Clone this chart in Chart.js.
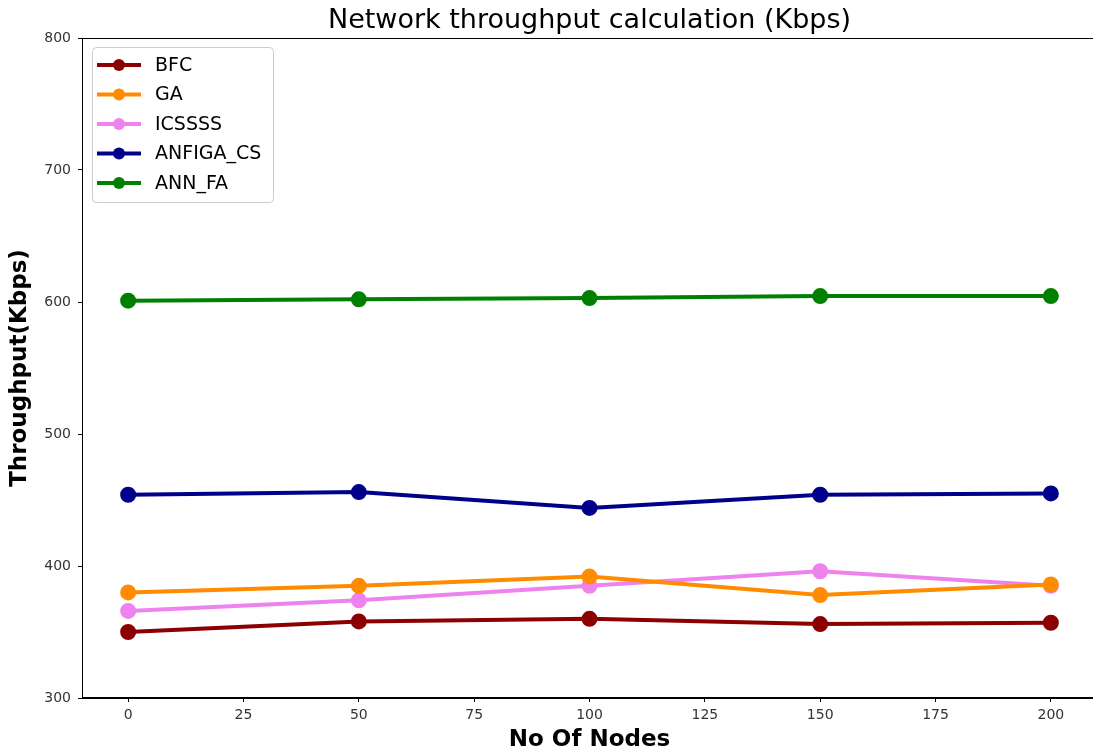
<!DOCTYPE html>
<html>
<head>
<meta charset="utf-8">
<script src="https://cdn.jsdelivr.net/npm/chart.js@4/dist/chart.umd.min.js"></script>
<style>
  html, body { margin: 0; padding: 0; background: #fff; overflow: hidden; }
  canvas { display: block; }
</style>
</head>
<body>
<!-- a bit wider than the window: the right spine sits just past the edge, as in the original -->
<canvas id="tputChart" width="1098" height="754"></canvas>
<script>
// DATA
const nodes = [0, 50, 100, 150, 200];
const bfc = [350, 358, 360, 356, 357];
const ga = [380, 385, 392, 378, 386];
const icssss = [366, 374, 385, 396, 385];
const anfigaCs = [454, 456, 444, 454, 455];
const annFa = [601, 602, 603, 604.5, 604.5];

const seriesNames = ["BFC", "GA", "ICSSSS", "ANFIGA_CS", "ANN_FA"];
const seriesColors = ["darkred", "darkorange", "violet", "darkblue", "green"];
const seriesValues = [bfc, ga, icssss, anfigaCs, annFa];

const FONT = "'DejaVu Sans', sans-serif";

// matplotlib-ish frame (top + right spines), title centred over the axes
const framePlugin = {
  id: "frame",
  afterLayout(chart) {
    if (chart.titleBlock) {
      chart.titleBlock.left = chart.chartArea.left;
      chart.titleBlock.right = chart.chartArea.right;
    }
  },
  beforeDatasetsDraw(chart) {
    const { ctx, chartArea: a } = chart;
    ctx.save();
    ctx.strokeStyle = "#000";
    ctx.lineWidth = 1;
    ctx.strokeRect(a.left + 0.5, a.top + 0.5, a.right - a.left - 1, a.bottom - a.top - 1);
    ctx.restore();
  }
};

// legend inside axes, upper left, line + marker
const boxLegend = {
  id: "boxLegend",
  afterDraw(chart) {
    const { ctx, chartArea: a } = chart;
    const x0 = a.left + 10, y0 = a.top + 9;
    const w = 181, h = 155, rowH = 29.5;
    ctx.save();
    ctx.fillStyle = "rgba(255,255,255,0.8)";
    ctx.strokeStyle = "#ccc";
    ctx.lineWidth = 1;
    ctx.beginPath();
    ctx.roundRect(x0 + 0.5, y0 + 0.5, w, h, 4);
    ctx.fill();
    ctx.stroke();
    ctx.font = "19px " + FONT;
    ctx.textBaseline = "middle";
    chart.data.datasets.forEach((ds, i) => {
      const cy = y0 + 18 + i * rowH;
      ctx.strokeStyle = ds.borderColor;
      ctx.lineWidth = 4;
      ctx.beginPath();
      ctx.moveTo(x0 + 5, cy);
      ctx.lineTo(x0 + 49, cy);
      ctx.stroke();
      ctx.fillStyle = ds.borderColor;
      ctx.beginPath();
      ctx.arc(x0 + 27, cy, 6, 0, Math.PI * 2);
      ctx.fill();
      ctx.fillStyle = "#000";
      ctx.fillText(ds.label, x0 + 63, cy + 1);
    });
    ctx.restore();
  }
};

const tputChart = new Chart(document.getElementById("tputChart").getContext("2d"), {
  type: "line",
  data: {
    datasets: seriesNames.map((name, i) => ({
      label: name,
      data: nodes.map((n, j) => ({ x: n, y: seriesValues[i][j] })),
      borderColor: seriesColors[i],
      backgroundColor: seriesColors[i],
      borderWidth: 4,
      pointRadius: 6,
      pointHoverRadius: 6,
      tension: 0
    }))
  },
  options: {
    responsive: false,
    maintainAspectRatio: false,
    devicePixelRatio: 1,
    animation: false,
    layout: { autoPadding: false, padding: { left: 0, right: 1, top: 0, bottom: 0 } },
    plugins: {
      legend: { display: false },
      tooltip: { enabled: false },
      title: {
        display: true,
        text: "Network throughput calculation (Kbps)",
        color: "#000",
        font: { family: FONT, size: 27, weight: "normal" },
        padding: { top: 5, bottom: 0.6 }
      }
    },
    scales: {
      x: {
        type: "linear",
        min: -10,
        max: 210,
        afterBuildTicks(scale) {
          scale.ticks = [0, 25, 50, 75, 100, 125, 150, 175, 200].map(v => ({ value: v }));
        },
        afterFit(scale) {
          scale.height = 56;
          scale.paddingLeft = 0;
          scale.paddingRight = 0;
        },
        grid: { drawOnChartArea: false, drawTicks: true, tickLength: 4, color: "#000" },
        border: { display: true, color: "#000" },
        ticks: { color: "#333", font: { family: FONT, size: 14 }, padding: 5, maxRotation: 0 },
        title: {
          display: true,
          text: "No Of Nodes",
          color: "#000",
          font: { family: FONT, size: 23, weight: "bold" },
          padding: { top: 0, bottom: 0 }
        }
      },
      y: {
        min: 300,
        max: 800,
        afterFit(scale) {
          scale.width = 82;
          scale.paddingTop = 0;
          scale.paddingBottom = 0;
        },
        grid: { drawOnChartArea: false, drawTicks: true, tickLength: 4, color: "#000" },
        border: { display: true, color: "#000" },
        ticks: { stepSize: 100, color: "#333", font: { family: FONT, size: 14 }, padding: 7 },
        title: {
          display: true,
          text: "Throughput(Kbps)",
          color: "#000",
          font: { family: FONT, size: 23, weight: "bold" },
          padding: { top: 6, bottom: 0 }
        }
      }
    }
  },
  plugins: [framePlugin, boxLegend]
});
</script>
</body>
</html>
